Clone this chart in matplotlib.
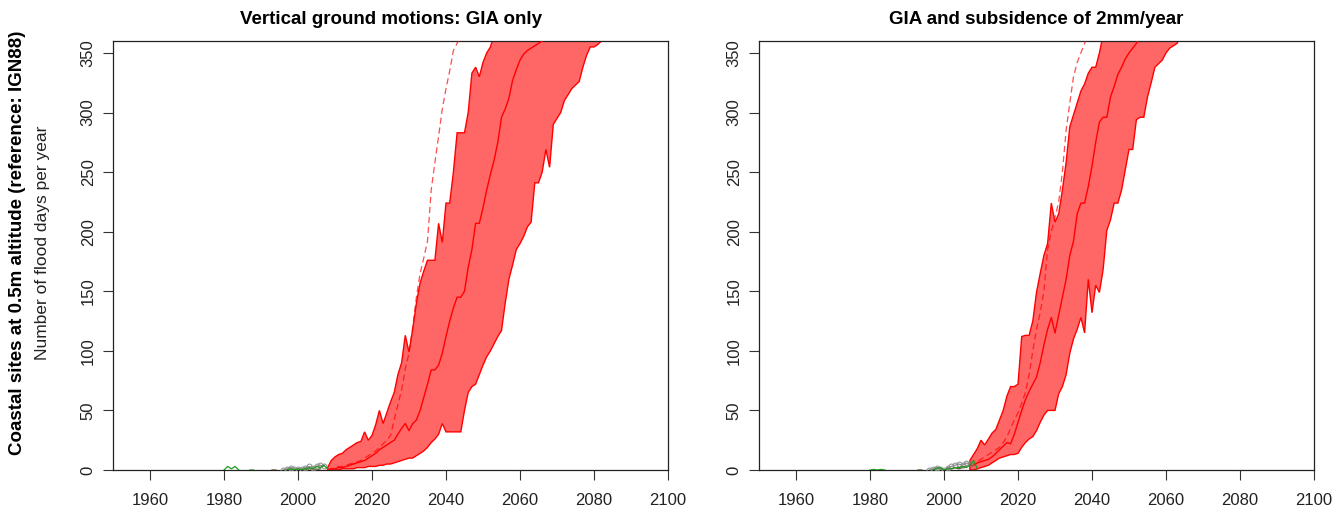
import numpy as np
import matplotlib
matplotlib.use("Agg")
import matplotlib.pyplot as plt

plt.rcParams['font.family'] = ['Liberation Sans', 'DejaVu Sans']

nan = np.nan

# ---- panel 1: GIA only ----
p1_up_years = np.arange(2008, 2054)
p1_up = [2, 8, 11, 13, 14, 17, 19, 21, 23, 24, 32, 25, 29, 38, 50, 39, 48, 57, 65, 80,
         90, 113, 99, 118, 140, 157, 167, 176, 176, 176, 207, 191, 224, 224, 250, 283,
         283, 283, 300, 333, 338, 330, 342, 350, 355, 365]
p1_lo_years = np.arange(2008, 2084)
p1_lo = [0, 0, 0, 0, 1, 1, 1, 1, 2, 2, 2, 3, 3, 3, 4, 4, 5, 5, 6, 7,
         8, 9, 10, 10, 12, 14, 16, 19, 23, 26, 30, 39, 32, 32, 32, 32, 32, 50, 65, 70,
         72, 80, 88, 95, 100, 106, 112, 117, 140, 160, 172, 185, 190, 196, 204, 208, 241, 241, 250, 269,
         254, 290, 295, 300, 310, 315, 320, 323, 326, 338, 348, 355, 355, 357, 360, 365]
p1_med_years = np.arange(2008, 2068)
p1_med = [0, 1, 1, 2, 2, 3, 4, 5, 6, 7, 8, 10, 12, 14, 17, 19, 21, 23, 25, 30,
          35, 39, 33, 39, 42, 50, 61, 72, 84, 84, 88, 98, 112, 125, 136, 145, 145, 150, 170, 185,
          207, 207, 220, 235, 248, 260, 275, 296, 303, 312, 327, 336, 344, 349, 352, 354, 356, 358, 360, 365]
p1_dash_years = np.arange(2008, 2045)
p1_dash = [0, 1, 2, 3, 3, 4, 5, 6, 7, 8, 10, 12, 14, 16, 19, 22, 25, 29, 42, 55,
           67, 85, 98, 120, 145, 165, 178, 192, 235, 258, 280, 303, 320, 335, 352, 358, 365]

# ---- panel 2: GIA + 2 mm/yr subsidence ----
p2_up_years = np.arange(2007, 2044)
p2_up = [8, 13, 18, 25, 21, 26, 31, 34, 42, 50, 62, 70, 70, 72, 112, 113, 113, 125, 149, 165,
         180, 190, 224, 208, 215, 235, 258, 288, 298, 308, 318, 324, 333, 338, 338, 350, 365]
p2_lo_years = np.arange(2007, 2065)
p2_lo = [0, 0, 1, 2, 3, 4, 6, 8, 10, 11, 12, 13, 13, 14, 19, 23, 26, 28, 33, 40,
         46, 50, 50, 50, 64, 70, 80, 98, 110, 118, 128, 115, 160, 132, 155, 149, 168, 201, 210, 224,
         224, 235, 252, 269, 269, 294, 296, 296, 313, 325, 338, 341, 344, 350, 354, 356, 358, 365]
p2_med_years = np.arange(2007, 2054)
p2_med = [2, 4, 6, 7, 8, 9, 11, 14, 17, 20, 23, 22, 30, 40, 50, 59, 66, 72, 78, 90,
          105, 118, 128, 115, 130, 145, 160, 180, 192, 215, 224, 224, 238, 255, 275, 292, 296, 296, 313, 322,
          332, 338, 345, 350, 354, 358, 365]
p2_dash_years = np.arange(2007, 2040)
p2_dash = [3, 5, 7, 9, 11, 13, 15, 17, 19, 23, 28, 35, 42, 48, 56, 65, 80, 100, 118, 132,
           150, 185, 200, 212, 225, 250, 285, 308, 330, 342, 350, 358, 365]

# observed counts (tide gauges), 1980-2009
obs_years = np.arange(1980, 2010)
p1_obs_green = [0, 3, 1, 3, 0, nan, nan, 0, 0, nan, nan, nan, nan, nan, nan, nan, nan, 0, 1, 0,
                1, 0, 1, 2, 1, 3, 2, 4, 1, nan]
p1_obs_grey = [nan] * 16 + [0, 1, 2, 1, 1, 1, 2, 3, 2, 3, 4, 3, nan, nan]
p1_obs_olive = [nan] * 13 + [0, 0, nan, nan, 0, 1, 0, 0, 1, 0, 1, 1, 0, 1, nan, nan, nan]
p2_obs_green = [0, 0.5, 0, 0.5, 0, nan, nan, nan, nan, nan, nan, nan, nan, 0, nan, nan, nan, 0, 1, 2,
                0, 1, 1, 2, 2, 3, 2, 4, 8, 1]
p2_obs_grey = [nan] * 16 + [0, 1, 2, 1, 0, 2, 3, 4, 5, 4, 6, 5, nan, nan]
p2_obs_olive = [nan] * 13 + [0, 0, nan, nan, 0, 2, 1, 0, 1, 1, 2, 1, 2, 3, nan, nan, nan]

titles = ['Vertical ground motions: GIA only', 'GIA and subsidence of 2mm/year']
xticks = [1960, 1980, 2000, 2020, 2040, 2060, 2080, 2100]
yticks = [0, 50, 100, 150, 200, 250, 300, 350]

panels = [
    (p1_up_years, p1_up, p1_lo_years, p1_lo, p1_med_years, p1_med, p1_dash_years, p1_dash,
     p1_obs_green, p1_obs_grey, p1_obs_olive),
    (p2_up_years, p2_up, p2_lo_years, p2_lo, p2_med_years, p2_med, p2_dash_years, p2_dash,
     p2_obs_green, p2_obs_grey, p2_obs_olive),
]

fig = plt.figure(figsize=(13.35, 5.12), dpi=100)
lefts = [113 / 1335, 759 / 1335]
w = 555 / 1335
b = 1 - 470 / 512
h = (470 - 41) / 512

for i, (uy, up, ly, lo, my, med, dy, dash, og, ogr, ool) in enumerate(panels):
    ax = fig.add_axes([lefts[i], b, w, h])
    # red envelope, drawn as one polygon like R's polygon()
    px = np.r_[uy, ly[::-1]]
    py = np.r_[up, lo[::-1]]
    ax.fill(px, py, facecolor=(1, 0, 0, 0.6), edgecolor='red', linewidth=1.0, zorder=2)
    ax.plot(my, med, color='red', linewidth=1.0, zorder=3)
    ax.plot(dy, dash, color='red', linewidth=0.9, dashes=(5, 3), alpha=0.7, zorder=3)
    # observations
    ax.plot(obs_years, ool, color='#6b5a2e', linewidth=1.0, zorder=4)
    ax.plot(obs_years, ogr, color='#8c8c8c', linewidth=0.9, marker='o', markersize=3.5,
            markerfacecolor='none', markeredgewidth=0.7, zorder=4)
    ax.plot(obs_years, og, color='#1f9a1f', linewidth=0.9, zorder=5)

    ax.set_xlim(1950, 2100)
    ax.set_ylim(0, 360)
    ax.set_xticks(xticks)
    ax.set_yticks(yticks)
    ax.tick_params(direction='out', length=7.5, width=0.8, labelsize=12,
                   labelcolor='#222222', color='#333333')
    ax.tick_params(axis='x', pad=9)
    ax.tick_params(axis='y', pad=5)
    for lab in ax.get_yticklabels():
        lab.set_rotation(90)
        lab.set_va('center')
    for s in ax.spines.values():
        s.set_linewidth(0.9)
        s.set_color('#222222')
    fig.text(lefts[i] + w / 2, 1 - 20 / 512, titles[i], ha='center', va='center',
             fontsize=13.5, fontweight='bold')

fig.text(18 / 1335, 0.525, 'Coastal sites at 0.5m altitude (reference: IGN88)', rotation=90,
         ha='center', va='center', fontsize=13.5, fontweight='bold')
fig.text(43 / 1335, 0.525, 'Number of flood days per year', rotation=90,
         ha='center', va='center', fontsize=12.5, color='#222222')

plt.savefig('out.png', dpi=100)
